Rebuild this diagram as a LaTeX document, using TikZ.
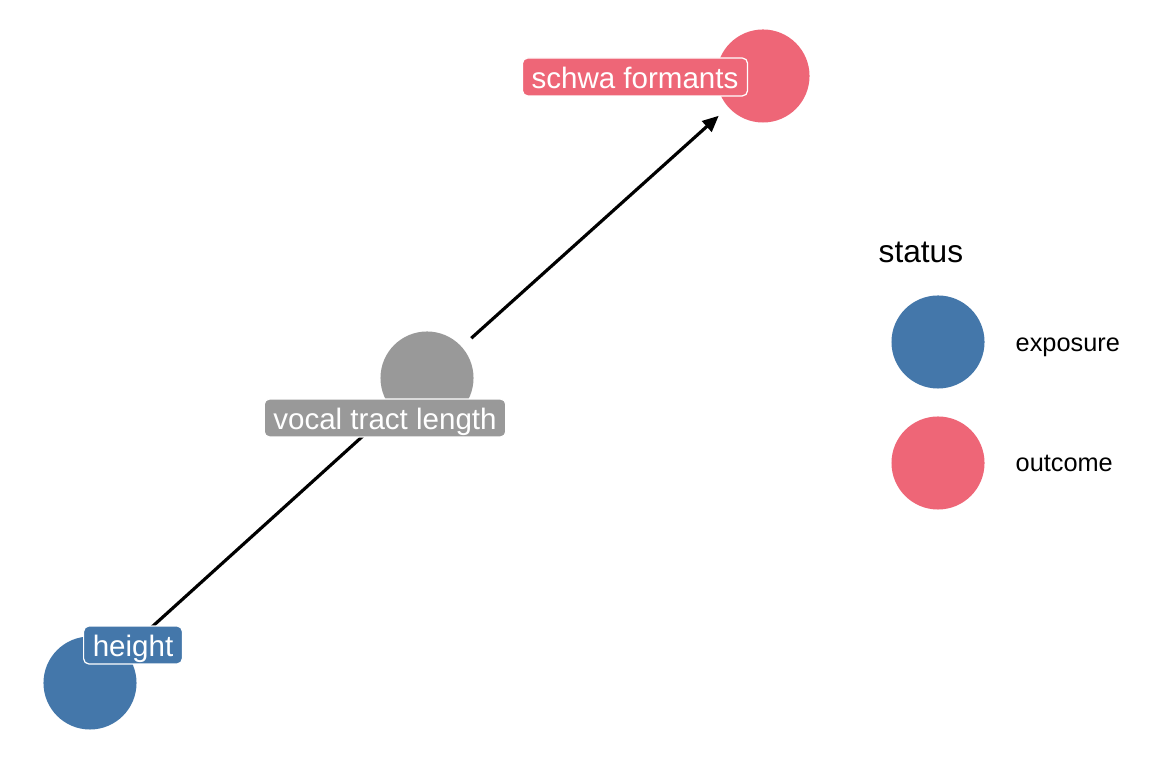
\documentclass[tikz,border=0pt]{standalone}
\usepackage{fontspec}
\setmainfont{Liberation Sans}
\usepackage{tikz}
\usetikzlibrary{arrows.meta}
\definecolor{expblue}{HTML}{4477AA}
\definecolor{outred}{HTML}{EE6677}
\definecolor{midgray}{HTML}{999999}

\begin{document}
\begin{tikzpicture}[x=0.01cm, y=-0.01cm,
  dot/.style={circle, minimum size=0.93cm, inner sep=0pt, outer sep=0pt},
  tag/.style={draw=white, line width=0.35pt, rounded corners=1.5pt, text=white,
    font=\fontsize{8.4}{10}\selectfont, inner xsep=2.6pt, inner ysep=1.4pt,
    text height=7.2pt, text depth=0.8pt},
  key/.style={anchor=base west, inner sep=0pt, font=\fontsize{7.2}{9}\selectfont},
  edge/.style={line width=0.9pt, -{Triangle[length=4.6pt, width=4pt]},
    shorten <=0.13cm, shorten >=0.13cm}]
\useasboundingbox (0,0) rectangle (1152,768);

% dag nodes
\node[dot, fill=expblue] (height) at (90,683) {};
\node[dot, fill=midgray] (vocal) at (427,378) {};
\node[dot, fill=outred] (schwa) at (763,76) {};

\draw[edge] (height) -- (vocal);
\draw[edge] (vocal) -- (schwa);

\node[tag, fill=expblue] (heightlab) at (133,645) {height};
\node[tag, fill=midgray] (vocallab) at (385,418) {vocal tract length};
\node[tag, fill=outred] (schwalab) at (635,77) {schwa formants};

% legend
\node[key, font=\fontsize{9}{11}\selectfont] (status) at (878,263) {status};
\node[dot, fill=expblue] (keyexp) at (938,342) {};
\node[dot, fill=outred] (keyout) at (938,463) {};
\node[key] (exposure) at (1015,352) {exposure};
\node[key] (outcome) at (1015,472) {outcome};
\end{tikzpicture}
\end{document}
